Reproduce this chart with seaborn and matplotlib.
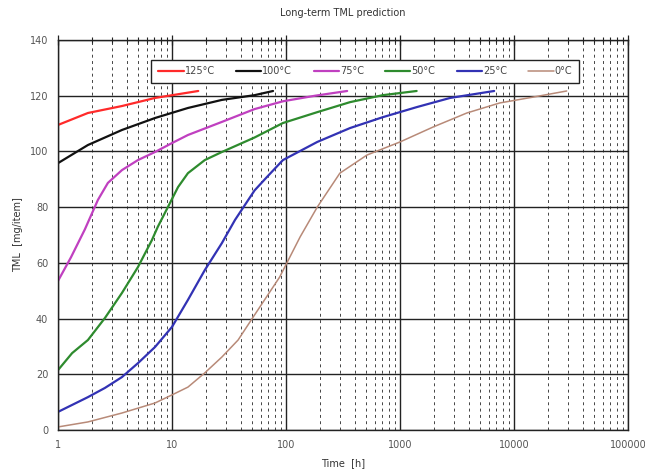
import numpy as np
import pandas as pd
import matplotlib
matplotlib.use("Agg")
import matplotlib.pyplot as plt
import seaborn as sns
from matplotlib.ticker import LogLocator, FixedLocator, NullFormatter, FuncFormatter

# ---- data ----
t125 = [1, 1.83, 3.64, 7.1, 17]
v125 = [109.5, 113.8, 116.3, 119.2, 121.7]

t100 = [1, 1.83, 3.64, 7.1, 13.8, 27.4, 53, 77]
v100 = [95.8, 102.3, 107.7, 112.0, 115.6, 118.5, 120.2, 121.7]

t75 = [1, 1.3, 1.72, 2.24, 2.74, 3.64, 5.03, 7.1, 10, 13.8, 27.4, 53, 94, 180, 344]
v75 = [53.5, 62.0, 72.0, 82.6, 88.7, 93.3, 96.9, 99.8, 103.0, 105.9, 110.6, 115.2, 118.0, 120.0, 121.7]

t50 = [1, 1.33, 1.83, 2.58, 3.64, 5.03, 6.67, 7.5, 9.2, 11.3, 13.8, 19.4, 27.4, 53, 94, 188, 365, 707, 1400]
v50 = [21.5, 27.6, 32.3, 40.2, 49.2, 58.5, 68.2, 72.9, 80.0, 87.2, 92.2, 96.9, 99.8, 105.0, 110.2, 114.1, 117.7, 120.2, 121.7]

t25 = [1, 1.83, 2.58, 3.64, 5.03, 7.1, 10, 13.8, 19.4, 27.4, 35.7, 53, 68, 94, 188, 365, 707, 1400, 2750, 6700]
v25 = [6.5, 11.8, 15.1, 19.0, 24.0, 29.8, 37.0, 46.7, 57.4, 67.1, 75.4, 86.0, 90.8, 96.9, 103.4, 108.4, 112.3, 115.9, 119.2, 121.7]

t0 = [1, 1.83, 3.64, 7.1, 10, 13.8, 19.4, 27.4, 38, 53, 88, 133, 188, 297, 513, 1000, 1960, 3860, 7500, 14700, 29000]
v0 = [1.1, 2.9, 6.1, 9.7, 12.6, 15.4, 20.5, 26.2, 32.3, 41.3, 54.9, 69.3, 80.0, 92.2, 98.7, 103.4, 108.8, 113.8, 117.4, 119.5, 121.7]

series_names = ["125°C", "100°C", "75°C", "50°C", "25°C", "0°C"]
times = [t125, t100, t75, t50, t25, t0]
values = [v125, v100, v75, v50, v25, v0]

x_ticks = [1, 10, 100, 1000, 10000, 100000]
y_ticks = [0, 20, 40, 60, 80, 100, 120, 140]

colors = ["#ff2a2a", "#111111", "#c040c0", "#2e8b2e", "#3232b4", "#b88a78"]
widths = [1.6, 1.6, 1.6, 1.6, 1.6, 1.1]

rows = []
for name, ts, vs in zip(series_names, times, values):
    for t, v in zip(ts, vs):
        rows.append({"Time": t, "TML": v, "Series": name})
df = pd.DataFrame(rows)

sns.set_style("white")
plt.rcParams["font.family"] = ["DejaVu Sans"]

fig = plt.figure(figsize=(6.45, 4.74), dpi=100)
ax = fig.add_axes([0.0899, 0.0928, 0.8837, 0.8228])

ax.set_xscale("log")
ax.set_xlim(1, 100000)
ax.set_ylim(0, 140)
ax.xaxis.set_major_locator(FixedLocator(x_ticks))
ax.xaxis.set_minor_locator(LogLocator(base=10, subs=np.arange(2, 10)))
ax.xaxis.set_minor_formatter(NullFormatter())
ax.xaxis.set_major_formatter(FuncFormatter(lambda v, p: f"{int(round(v))}"))
ax.yaxis.set_major_locator(FixedLocator(y_ticks))

ax.grid(which="major", axis="both", color="#222222", linewidth=1.0, linestyle="-")
ax.grid(which="minor", axis="x", color="#444444", linewidth=0.7, linestyle=(0, (3, 3.5)))
ax.set_axisbelow(True)

for name, c, w in zip(series_names, colors, widths):
    sub = df[df["Series"] == name]
    sns.lineplot(data=sub, x="Time", y="TML", ax=ax, color=c, linewidth=w,
                 label=name, estimator=None, sort=True)

for s in ax.spines.values():
    s.set_color("#222222")
    s.set_linewidth(1.0)

ax.tick_params(which="major", axis="both", direction="inout", length=7, width=0.9,
               colors="#222222", labelcolor="#555555", labelsize=7)
ax.tick_params(which="minor", axis="x", direction="inout", length=5, width=0.8,
               colors="#222222", top=True)
ax.tick_params(which="major", axis="x", top=True)

ax.set_xlabel("Time  [h]", fontsize=7, color="#333333", labelpad=6)
ax.set_ylabel("TML  [mg/item]", fontsize=7, color="#333333", labelpad=5)
ax.set_title("Long-term TML prediction", fontsize=7, color="#333333", pad=17)

leg = ax.legend(loc="upper center", bbox_to_anchor=(0.539, 0.962), ncol=6,
                fontsize=7, frameon=True, fancybox=False, framealpha=1,
                edgecolor="#222222", handlelength=2.6, handletextpad=0.1,
                columnspacing=2.2, borderpad=0.7)
leg.get_frame().set_linewidth(1.0)
for txt in leg.get_texts():
    txt.set_color("#444444")

fig.savefig("out.png", dpi=100, facecolor="white")
